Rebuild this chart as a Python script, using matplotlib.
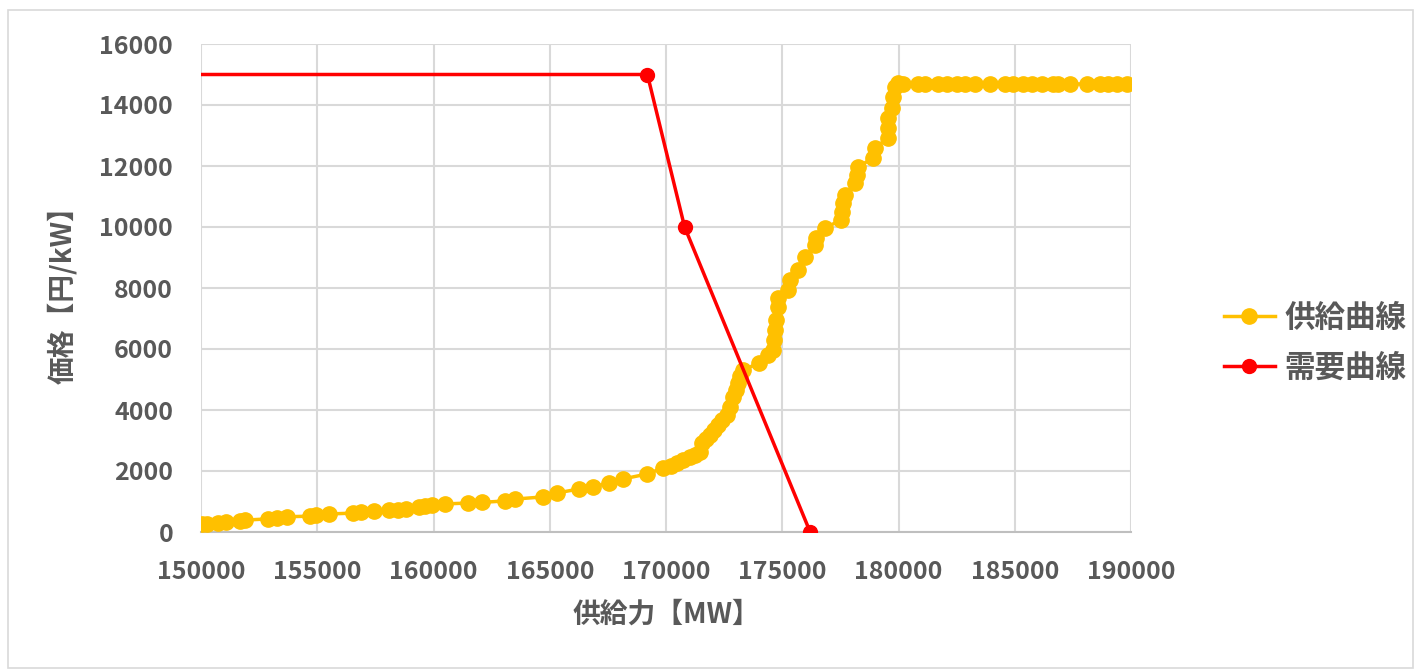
import matplotlib
matplotlib.use("Agg")
import matplotlib.pyplot as plt
from matplotlib.patches import Rectangle

plt.rcParams['font.family'] = ['Noto Sans CJK JP', 'DejaVu Sans']
plt.rcParams['font.weight'] = 'bold'
plt.rcParams['axes.labelweight'] = 'bold'

# supply curve (MW, yen/kW)
supply_mw = [150030, 150245, 150730, 151075, 151680, 151900, 152880, 153270, 153700, 154690,
             154950, 155500, 156540, 156880, 157440, 158090, 158470, 158820, 159380, 159640,
             159940, 160500, 161490, 162090, 163080, 163510, 164710, 165310, 166260, 166860,
             167550, 168150, 169180, 169870, 170200, 170470, 170750, 171030, 171250, 171460,
             171550, 171700, 171890, 172050, 172240, 172430, 172620, 172750, 172880, 173000,
             173100, 173200, 173310, 174000, 174390, 174600, 174650, 174700, 174750, 174800,
             174820, 175250, 175330, 175680, 175980, 176410, 176450, 176840, 177530, 177570,
             177610, 177700, 178130, 178210, 178260, 178900, 178990, 179550, 179550, 179550,
             179720, 179760, 179850, 179980, 180190, 180840, 181140, 181700, 182090, 182520,
             182860, 183290, 183940, 184580, 184930, 185360, 185740, 186170, 186650, 186860,
             187380, 188110, 188670, 189010, 189400, 189830]
supply_price = [260, 260, 300, 330, 360, 390, 430, 460, 500, 520,
                560, 590, 620, 660, 690, 720, 720, 750, 820, 850,
                890, 920, 950, 970, 1020, 1080, 1150, 1280, 1410, 1480,
                1610, 1740, 1900, 2100, 2180, 2260, 2360, 2460, 2540, 2620,
                2920, 3050, 3180, 3340, 3510, 3680, 3840, 4100, 4430, 4660,
                4890, 5100, 5310, 5540, 5800, 5970, 6300, 6620, 6950, 7380,
                7670, 7930, 8260, 8590, 9020, 9410, 9640, 9970, 10230, 10490,
                10790, 11050, 11440, 11700, 11970, 12260, 12590, 12920, 13250, 13570,
                13900, 14260, 14590, 14720, 14690, 14690, 14690, 14690, 14690, 14690,
                14690, 14690, 14690, 14690, 14690, 14690, 14690, 14690, 14690, 14690,
                14690, 14690, 14690, 14690, 14690, 14690]

# demand curve
demand_mw = [0, 169200, 170800, 176200]
demand_price = [15000, 15000, 10000, 0]

labels = ['供給曲線', '需要曲線']
text_c = '#595959'

fig = plt.figure(figsize=(14.15, 6.71), dpi=100)
ax = fig.add_axes([201/1415, 1-532/671, 930/1415, 488/671])

ax.plot(supply_mw, supply_price, color='#FFC000', lw=2.5, marker='o', ms=11,
        label=labels[0], zorder=3)
ax.plot(demand_mw, demand_price, color='#FF0000', lw=2.5, marker='o', ms=10,
        label=labels[1], zorder=4)

ax.set_xlim(150000, 190000)
ax.set_ylim(0, 16000)
ax.set_xticks(range(150000, 190001, 5000))
ax.set_yticks(range(0, 16001, 2000))
ax.grid(True, color='#D9D9D9', lw=1.5, zorder=0)
ax.set_axisbelow(True)
for s in ['top', 'right', 'left']:
    ax.spines[s].set_visible(False)
ax.spines['bottom'].set_color('#BFBFBF')
ax.spines['bottom'].set_linewidth(1.5)
ax.tick_params(length=0, labelsize=18, labelcolor=text_c)
ax.tick_params(axis='y', pad=20)
ax.tick_params(axis='x', pad=20)
for lb in ax.get_xticklabels() + ax.get_yticklabels():
    lb.set_fontweight('bold')

ax.set_xlabel('供給力【MW】', fontsize=20, color=text_c, fontweight='bold', labelpad=12)
ax.set_ylabel('価格【円/kW】', fontsize=20, color=text_c, fontweight='bold', labelpad=16)

leg = ax.legend(loc='center left', bbox_to_anchor=(1196/1415, 1-343/671),
                bbox_transform=fig.transFigure, frameon=False,
                prop={'size': 22, 'weight': 'bold'},
                handlelength=1.7, labelspacing=0.6, handletextpad=0.3)
for t in leg.get_texts():
    t.set_color(text_c)

fig.patches.append(Rectangle((8/1415, 3/671), 1405/1415, 658/671, transform=fig.transFigure,
                             fill=False, edgecolor='#D9D9D9', lw=1.2))

fig.savefig('out.png', dpi=100)
